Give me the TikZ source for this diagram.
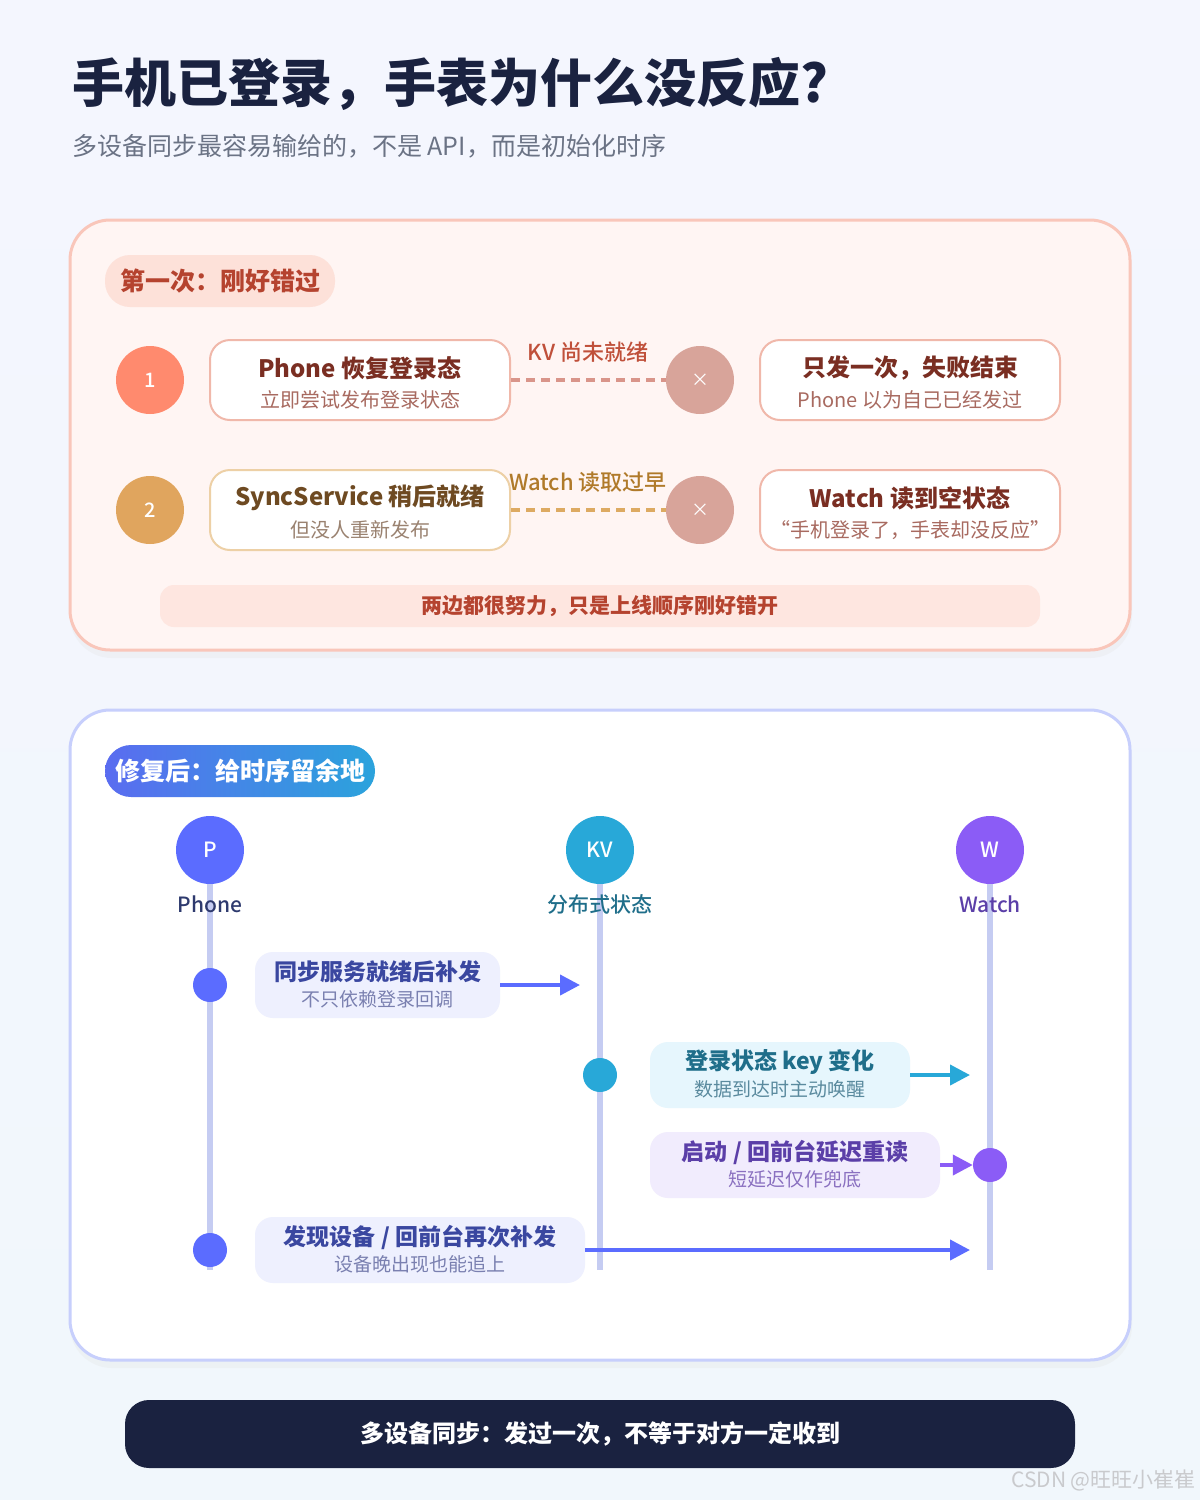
\documentclass[tikz,border=0pt]{standalone}
\usepackage{fontspec}
\setmainfont{Noto Sans CJK SC}
\newfontfamily\medfont{Noto Sans CJK SC Medium}
\usetikzlibrary{arrows.meta,calc}
\newcommand\fsz[1]{\fontsize{#1}{#1}\selectfont}
\definecolor{bgtop}{HTML}{F4F6FE}
\definecolor{bgbot}{HTML}{F1F7FC}
\definecolor{navy}{HTML}{1A2240}
\definecolor{subgrey}{HTML}{6B7385}
\definecolor{p1fill}{HTML}{FFF5F3}
\definecolor{p1line}{HTML}{F9C6BA}
\definecolor{tag1fill}{HTML}{FDE1D9}
\definecolor{tag1text}{HTML}{B5432F}
\definecolor{c1}{HTML}{FF8A6E}
\definecolor{c2}{HTML}{E0A55E}
\definecolor{xcirc}{HTML}{D8A49A}
\definecolor{b1line}{HTML}{F0B8AA}
\definecolor{b2line}{HTML}{EDD0A6}
\definecolor{bt1}{HTML}{7A2E22}
\definecolor{bs1}{HTML}{A86A60}
\definecolor{bt2}{HTML}{6E4A22}
\definecolor{bs2}{HTML}{9A8270}
\definecolor{dash1}{HTML}{D9958A}
\definecolor{dash2}{HTML}{DDAA62}
\definecolor{lab1}{HTML}{C0503A}
\definecolor{lab2}{HTML}{B07A2A}
\definecolor{barfill}{HTML}{FEE6E0}
\definecolor{p2line}{HTML}{C7CFFC}
\definecolor{lifeline}{HTML}{C5CCF2}
\definecolor{cP}{HTML}{5B6CFF}
\definecolor{cK}{HTML}{28A8D8}
\definecolor{cW}{HTML}{8B5CF6}
\definecolor{tagA}{HTML}{5A6CF0}
\definecolor{tagB}{HTML}{2BA3DC}
\definecolor{lP}{HTML}{2E3A6E}
\definecolor{lK}{HTML}{1F6E8A}
\definecolor{lW}{HTML}{5B3FA8}
\definecolor{fP}{HTML}{EEF0FE}
\definecolor{fK}{HTML}{E6F6FD}
\definecolor{fW}{HTML}{F1ECFD}
\definecolor{tP}{HTML}{3A47A0}
\definecolor{sP}{HTML}{7A80B0}
\definecolor{sK}{HTML}{5A8A9E}
\definecolor{sW}{HTML}{8A70C0}
\definecolor{wm}{HTML}{C9CACD}
\tikzset{
  txt/.style={inner sep=0pt, anchor=center},
  numcirc/.style={circle, minimum size=68pt, inner sep=0pt, text=white, font=\medfont\fsz{20}},
  xcircle/.style={circle, fill=xcirc, minimum size=68pt, inner sep=0pt, text=white, font=\fsz{18}},
  stepbox/.style={rounded corners=20pt, fill=white, line width=2pt, minimum width=300pt, minimum height=80pt, inner sep=0pt},
  btitle/.style={txt, font=\bfseries\fsz{24}},
  bsub/.style={txt, font=\fsz{20}},
  misslink/.style={line width=4pt, dash pattern=on 9pt off 6pt},
  head/.style={circle, minimum size=68pt, inner sep=0pt, text=white, font=\medfont\fsz{21}},
  lifel/.style={line width=6pt, color=lifeline},
  dot/.style={circle, minimum size=34pt, inner sep=0pt},
  evbox/.style={rounded corners=18pt, minimum height=66pt, inner sep=0pt},
  ettl/.style={txt, font=\bfseries\fsz{23}},
  esub/.style={txt, font=\fsz{19}},
  msg/.style={line width=4pt, -{Triangle[length=20pt,width=20pt]}},
}
\begin{document}
\begin{tikzpicture}[x=1pt,y=-1pt]
\useasboundingbox (0,0) rectangle (1200,1500);
\shade[top color=bgtop, bottom color=bgbot] (0,0) rectangle (1200,1500);

% title
\node[inner sep=0pt, anchor=west, text=navy, font=\bfseries\fsz{52}] (title) at (72,84) {手机已登录，手表为什么没反应?};
\node[inner sep=0pt, anchor=west, text=subgrey, font=\fsz{25}] (subtitle) at (72,146) {多设备同步最容易输给的，不是 API，而是初始化时序};

% panel 1
\fill[black!12, opacity=0.25, rounded corners=42pt] (70,226) rectangle (1132,658);
\draw[fill=p1fill, draw=p1line, line width=3pt, rounded corners=40pt] (70,220) rectangle (1130,650);
\node[fill=tag1fill, rounded corners=25pt, minimum width=230pt, minimum height=52pt, inner sep=0pt, text=tag1text, font=\bfseries\fsz{25}] (tag1) at (220,281) {第一次：刚好错过};

\node[numcirc, fill=c1] (n1) at (150,380) {1};
\node[stepbox, draw=b1line] (b1) at (360,380) {};
\node[btitle, text=bt1] (b1t) at (360,368) {Phone 恢复登录态};
\node[bsub, text=bs1] (b1s) at (360,400) {立即尝试发布登录状态};
\node[xcircle] (x1) at (700,380) {×};
\node[stepbox, draw=b1line] (r1) at (910,380) {};
\node[btitle, text=bt1] (r1t) at (910,368) {只发一次，失败结束};
\node[bsub, text=bs1] (r1s) at (910,400) {Phone 以为自己已经发过};
\draw[misslink, dash1] (b1.east) -- (x1.west);
\node[txt, text=lab1, font=\medfont\fsz{22}] (l1) at (588,352) {KV 尚未就绪};

\node[numcirc, fill=c2] (n2) at (150,510) {2};
\node[stepbox, draw=b2line] (b2) at (360,510) {};
\node[btitle, text=bt2] (b2t) at (360,498) {SyncService 稍后就绪};
\node[bsub, text=bs2] (b2s) at (360,530) {但没人重新发布};
\node[xcircle] (x2) at (700,510) {×};
\node[stepbox, draw=b1line] (r2) at (910,510) {};
\node[btitle, text=bt1] (r2t) at (910,498) {Watch 读到空状态};
\node[bsub, text=bs1] (r2s) at (910,530) {“手机登录了，手表却没反应”};
\draw[misslink, dash2] (b2.east) -- (x2.west);
\node[txt, text=lab2, font=\medfont\fsz{22}] (l2) at (588,482) {Watch 读取过早};

\node[fill=barfill, rounded corners=14pt, minimum width=880pt, minimum height=42pt, inner sep=0pt, text=tag1text, font=\bfseries\fsz{21}] (bar1) at (600,606) {两边都很努力，只是上线顺序刚好错开};

% panel 2
\fill[black!12, opacity=0.25, rounded corners=42pt] (70,716) rectangle (1132,1368);
\draw[fill=white, draw=p2line, line width=3pt, rounded corners=40pt] (70,710) rectangle (1130,1360);
\shade[left color=tagA, right color=tagB, rounded corners=26pt] (105,745) rectangle (375,797);
\node[txt, text=white, font=\bfseries\fsz{25}] (tag2) at (240,771) {修复后：给时序留余地};

\coordinate (Pend) at (210,1270);
\coordinate (Kend) at (600,1270);
\coordinate (Wend) at (990,1270);
\node[head, fill=cP] (P) at (210,850) {P};
\node[head, fill=cK] (K) at (600,850) {KV};
\node[head, fill=cW] (W) at (990,850) {W};
\draw[lifel] (P.south) -- (Pend);
\draw[lifel] (K.south) -- (Kend);
\draw[lifel] (W.south) -- (Wend);
\node[txt, text=lP, font=\medfont\fsz{21}] (Pl) at (210,904) {Phone};
\node[txt, text=lK, font=\medfont\fsz{21}] (Kl) at (600,904) {分布式状态};
\node[txt, text=lW, font=\medfont\fsz{21}] (Wl) at (990,904) {Watch};

% event 1
\node[dot, fill=cP] (d1) at (210,985) {};
\node[evbox, fill=fP, minimum width=245pt] (e1) at (377.5,985) {};
\node[ettl, text=tP] (e1t) at (377.5,972) {同步服务就绪后补发};
\node[esub, text=sP] (e1s) at (377.5,999) {不只依赖登录回调};
\coordinate (a1) at (580,985);
\draw[msg, cP] (e1.east) -- (a1);

% event 2
\node[dot, fill=cK] (d2) at (600,1075) {};
\node[evbox, fill=fK, minimum width=260pt] (e2) at (780,1075) {};
\node[ettl, text=lK] (e2t) at (780,1062) {登录状态 key 变化};
\node[esub, text=sK] (e2s) at (780,1089) {数据到达时主动唤醒};
\coordinate (a2) at (970,1075);
\draw[msg, cK] (e2.east) -- (a2);

% event 3
\node[evbox, fill=fW, minimum width=290pt] (e3) at (795,1165) {};
\node[ettl, text=lW] (e3t) at (795,1152) {启动 / 回前台延迟重读};
\node[esub, text=sW] (e3s) at (795,1179) {短延迟仅作兜底};
\node[dot, fill=cW] (d3) at (990,1165) {};
\draw[msg, cW] (e3.east) -- (d3.west);

% event 4
\node[dot, fill=cP] (d4) at (210,1250) {};
\node[evbox, fill=fP, minimum width=330pt] (e4) at (420,1250) {};
\node[ettl, text=tP] (e4t) at (420,1237) {发现设备 / 回前台再次补发};
\node[esub, text=sP] (e4s) at (420,1264) {设备晚出现也能追上};
\coordinate (a4) at (970,1250);
\draw[msg, cP] (e4.east) -- (a4);

% footer
\node[fill=navy, rounded corners=24pt, minimum width=950pt, minimum height=68pt, inner sep=0pt, text=white, font=\bfseries\fsz{24}] (foot) at (600,1434) {多设备同步：发过一次，不等于对方一定收到};
\node[inner sep=0pt, anchor=east, text=wm, font=\fsz{21}] (wmk) at (1196,1480) {CSDN @旺旺小崔崔};
\end{tikzpicture}
\end{document}
